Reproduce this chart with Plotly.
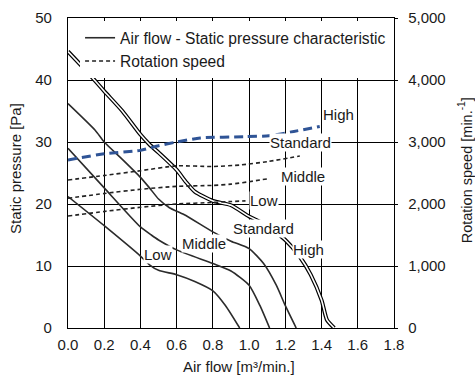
import plotly.graph_objects as go

# ---- data: Air flow [m3/min] vs Static pressure [Pa] ----
p_high_x = [0, 0.1, 0.2, 0.3, 0.4, 0.45, 0.5, 0.6, 0.65, 0.7, 0.8, 0.9, 1.0, 1.1, 1.2, 1.28, 1.34, 1.4, 1.43, 1.47]
p_high_y = [44.6, 41.5, 38.2, 35.0, 31.2, 29.6, 28.3, 25.5, 23.6, 22.0, 20.5, 19.8, 18.0, 16.5, 14.2, 11.5, 8.6, 4.5, 1.3, 0]

p_std_x = [0, 0.15, 0.2, 0.3, 0.4, 0.45, 0.5, 0.56, 0.64, 0.8, 0.9, 1.0, 1.08, 1.15, 1.2, 1.26]
p_std_y = [36.2, 31.9, 30.0, 27.2, 24.3, 22.6, 20.8, 19.4, 18.3, 15.5, 14.0, 12.8, 10.4, 6.9, 3.6, 0]

p_mid_x = [0, 0.2, 0.4, 0.46, 0.5, 0.6, 0.8, 0.9, 1.0, 1.06, 1.113]
p_mid_y = [29.0, 22.6, 16.3, 15.0, 14.2, 12.6, 10.4, 9.2, 6.9, 3.6, 0]

p_low_x = [0, 0.2, 0.4, 0.45, 0.5, 0.6, 0.7, 0.8, 0.87, 0.948]
p_low_y = [21.2, 16.5, 11.6, 10.2, 9.3, 8.6, 7.5, 6.0, 3.6, 0]

# ---- data: Air flow vs Rotation speed [min-1] ----
r_high_x = [0, 0.2, 0.4, 0.5, 0.6, 0.73, 0.98, 1.11, 1.24, 1.39]
r_high_y = [2710, 2810, 2865, 2940, 3000, 3065, 3086, 3100, 3166, 3250]

r_std_x = [0, 0.2, 0.4, 0.6, 0.8, 0.95, 1.1, 1.28]
r_std_y = [2387, 2460, 2537, 2615, 2605, 2629, 2683, 2775]

r_mid_x = [0, 0.2, 0.4, 0.6, 0.8, 0.9, 1.0, 1.1]
r_mid_y = [2092, 2170, 2237, 2285, 2300, 2320, 2360, 2405]

r_low_x = [0, 0.2, 0.4, 0.6, 0.8, 0.9, 0.98]
r_low_y = [1806, 1880, 1947, 2000, 2025, 2040, 2050]

x_ticks = [0, 0.2, 0.4, 0.6, 0.8, 1.0, 1.2, 1.4, 1.6, 1.8]
y_ticks = [0, 10, 20, 30, 40, 50]
y2_ticks = [0, 1000, 2000, 3000, 4000, 5000]

FONT = "Liberation Sans, Arial, sans-serif"
TXT = "#1a1a1a"
BLUE = "#2f5496"
CURVE = "#2b2b2b"

fig = go.Figure()

# pressure curves
for xs, ys, show in [(p_low_x, p_low_y, True), (p_mid_x, p_mid_y, False), (p_std_x, p_std_y, False)]:
    fig.add_trace(go.Scatter(x=xs, y=ys, mode="lines", name="Air flow - Static pressure characteristic",
                             showlegend=show, legendgroup="p",
                             line=dict(color=CURVE, width=1.6, shape="spline", smoothing=0.6)))
# high curve drawn as double line
fig.add_trace(go.Scatter(x=p_high_x, y=p_high_y, mode="lines", showlegend=False,
                         line=dict(color="black", width=4, shape="spline", smoothing=0.6)))
fig.add_trace(go.Scatter(x=p_high_x, y=p_high_y, mode="lines", showlegend=False,
                         line=dict(color="white", width=1.6, shape="spline", smoothing=0.6)))

# rotation speed curves
for xs, ys, show in [(r_low_x, r_low_y, True), (r_mid_x, r_mid_y, False), (r_std_x, r_std_y, False)]:
    fig.add_trace(go.Scatter(x=xs, y=ys, mode="lines", yaxis="y2", name="Rotation speed",
                             showlegend=show, legendgroup="r",
                             line=dict(color="#222222", width=1.6, dash="4px,3px", shape="spline", smoothing=0.6)))
fig.add_trace(go.Scatter(x=r_high_x, y=r_high_y, mode="lines", yaxis="y2", showlegend=False,
                         line=dict(color=BLUE, width=3, dash="9px,5px", shape="spline", smoothing=0.6)))

# curve labels
labels = [
    ("High", 1.40, 34.5, "left"),
    ("Standard", 1.286, 29.9, "center"),
    ("Middle", 1.297, 24.4, "center"),
    ("Low", 1.08, 20.6, "center"),
    ("Standard", 1.077, 16.05, "center"),
    ("High", 1.328, 12.7, "center"),
    ("Middle", 0.749, 13.6, "center"),
    ("Low", 0.496, 11.8, "center"),
]
for t, x, y, xa in labels:
    fig.add_annotation(x=x, y=y, xref="x", yref="y", text=t, showarrow=False, xanchor=xa, yanchor="middle",
                       bgcolor="white", borderpad=0, font=dict(family=FONT, size=15, color=TXT))

# axis titles
fig.add_annotation(x=0.526, y=-0.1226, xref="paper", yref="paper", text="Air flow [m³/min.]", showarrow=False,
                   xanchor="center", yanchor="middle", font=dict(family=FONT, size=15, color=TXT))
fig.add_annotation(x=-0.1626, y=0.516, xref="paper", yref="paper", text="Static pressure [Pa]", showarrow=False,
                   textangle=-90, xanchor="center", yanchor="middle", font=dict(family=FONT, size=15, color=TXT))
fig.add_annotation(x=1.219, y=0.51, xref="paper", yref="paper", text="Rotation speed [min.<sup>-1</sup>]",
                   showarrow=False, textangle=-90, xanchor="center", yanchor="middle",
                   font=dict(family=FONT, size=14.5, color=TXT))

axis_common = dict(showline=True, linecolor="black", linewidth=1.3, zeroline=False, automargin=False,
                   tickfont=dict(family=FONT, size=15, color=TXT))

fig.update_layout(
    width=475, height=376,
    margin=dict(l=68, r=81, t=18, b=48, autoexpand=False),
    paper_bgcolor="white", plot_bgcolor="white",
    xaxis=dict(range=[0, 1.8], tickvals=x_ticks, tickformat=".1f", showgrid=True, gridcolor="black",
               gridwidth=1, ticks="inside", ticklen=5, tickcolor="black", mirror="ticks",
               ticklabelstandoff=3, **axis_common),
    yaxis=dict(range=[0, 50], tickvals=y_ticks, showgrid=True, gridcolor="black", gridwidth=1,
               ticks="", mirror=True, ticklabelstandoff=12, **axis_common),
    yaxis2=dict(range=[0, 5000], tickvals=y2_ticks, tickformat=",d", overlaying="y", side="right",
                showgrid=False, ticks="outside", ticklen=3, tickcolor="black", ticklabelstandoff=7,
                **axis_common),
    legend=dict(x=0.037, y=0.99, xanchor="left", yanchor="top", bgcolor="white", borderwidth=0,
                font=dict(family=FONT, size=15.6, color=TXT), tracegroupgap=0, itemwidth=30),
    showlegend=True,
)

fig.write_html("out.html", post_script="document.body.style.margin='0';",
               config={"displayModeBar": False})
